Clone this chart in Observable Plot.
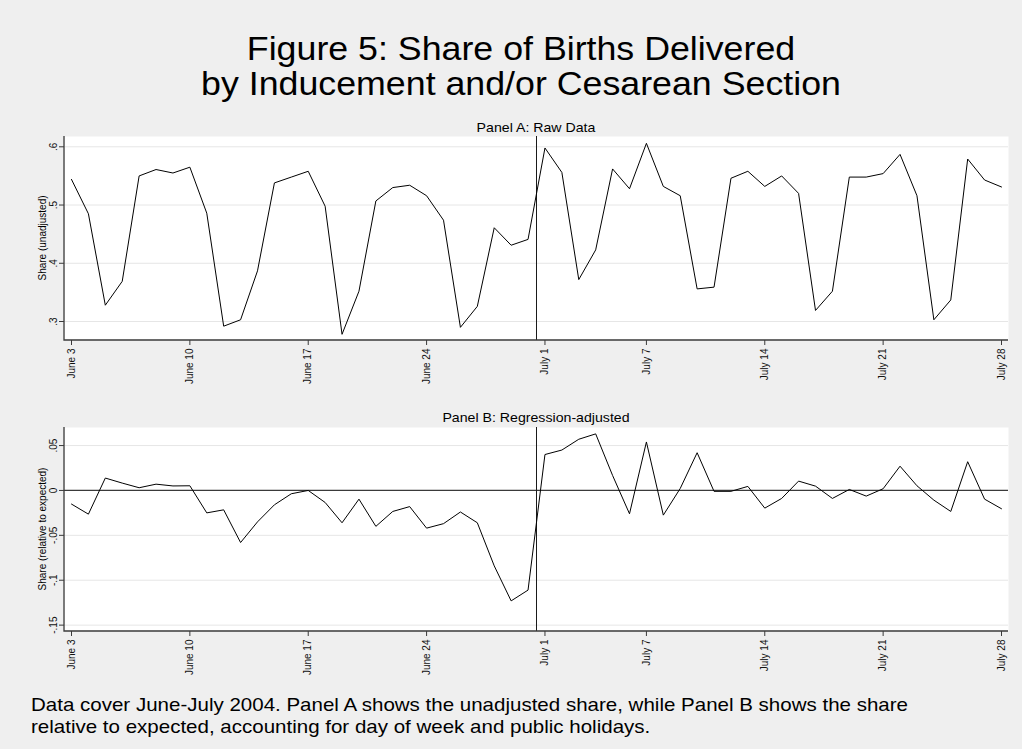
<!DOCTYPE html>
<html>
<head>
<meta charset="utf-8">
<script src="https://cdn.jsdelivr.net/npm/d3@7"></script>
<script src="https://cdn.jsdelivr.net/npm/@observablehq/plot@0.6"></script>
<style>
  html, body { margin: 0; padding: 0; background: #efefef; }
  #chart { position: relative; width: 1022px; height: 749px; background: #efefef; overflow: hidden;
           font-family: "Liberation Sans", Arial, Helvetica, sans-serif; }
  .panel { position: absolute; left: 0; }
  #labels { position: absolute; left: 0; top: 0; pointer-events: none; }
</style>
</head>
<body>
<div id="chart"></div>
<script>
// Daily share of births delivered by inducement and/or cesarean section, June 3 – July 28, 2004
const rawShare = [
  0.544, 0.485, 0.328, 0.369, 0.550, 0.561, 0.555, 0.565, 0.486, 0.292,
  0.303, 0.387, 0.538, 0.548, 0.558, 0.498, 0.278, 0.352, 0.507, 0.530,
  0.534, 0.516, 0.474, 0.290, 0.326, 0.461, 0.431, 0.441,
  0.598, 0.556, 0.372, 0.423, 0.562, 0.528, 0.606, 0.532, 0.516, 0.356,
  0.359, 0.546, 0.558, 0.532, 0.550, 0.520, 0.319, 0.352, 0.548, 0.548,
  0.554, 0.587, 0.516, 0.303, 0.337, 0.579, 0.543, 0.531
];

// Share relative to expected (day-of-week and holiday adjusted)
const adjShare = [
  -0.0152, -0.0264, 0.0138, 0.0082, 0.0030, 0.0070, 0.0050, 0.0052, -0.0250, -0.0216,
  -0.0580, -0.0350, -0.0160, -0.0037, 0.0000, -0.0134, -0.0360, -0.0097, -0.0400, -0.0234,
  -0.0180, -0.0420, -0.0370, -0.0240, -0.0360, -0.0840, -0.1230, -0.1110,
  0.0400, 0.0450, 0.0570, 0.0630, 0.0167, -0.0260, 0.0540, -0.0275, 0.0022, 0.0420,
  -0.0010, -0.0010, 0.0045, -0.0197, -0.0089, 0.0104, 0.0048, -0.0089, 0.0011, -0.0063,
  0.0019, 0.0270, 0.0052, -0.0108, -0.0234, 0.0320, -0.0097, -0.0204
];

const firstDay = new Date(Date.UTC(2004, 5, 3));
const lastDay = new Date(Date.UTC(2004, 6, 28));
const days = d3.utcDay.range(firstDay, d3.utcDay.offset(lastDay, 1));

const tickDates = [
  Date.UTC(2004, 5, 3), Date.UTC(2004, 5, 10), Date.UTC(2004, 5, 17), Date.UTC(2004, 5, 24),
  Date.UTC(2004, 6, 1), Date.UTC(2004, 6, 7), Date.UTC(2004, 6, 14), Date.UTC(2004, 6, 21),
  Date.UTC(2004, 6, 28)
].map(t => new Date(t));
const tickLabels = ["June 3", "June 10", "June 17", "June 24", "July 1", "July 7", "July 14", "July 21", "July 28"];

const yTicksA = [0.3, 0.4, 0.5, 0.6];
const yTicksB = [-0.15, -0.1, -0.05, 0, 0.05];

// Boundary between June and July
const monthBreak = new Date(Date.UTC(2004, 5, 30, 12));

const rows = days.map((d, i) => ({date: d, raw: rawShare[i], adj: adjShare[i]}));
const labelByTime = new Map(tickDates.map((d, i) => [+d, tickLabels[i]]));
const fmtShare = d => d === 0 ? "0" : String(d).replace("0.", ".");

const axisColor = "#3a3a3a";

// Left and bottom axis lines of the plot region
const axisLines = (index, scales, values, dims) => {
  const {width, height, marginTop, marginRight, marginBottom, marginLeft} = dims;
  return d3.create("svg:path")
    .attr("d", `M${marginLeft},${marginTop}V${height - marginBottom}H${width - marginRight}`)
    .attr("fill", "none")
    .attr("stroke", axisColor)
    .attr("stroke-width", 1.3)
    .node();
};

function panel({field, domain, ticks, zeroLine}) {
  return Plot.plot({
    width: 1022,
    height: 280,
    marginTop: 16,
    marginBottom: 60,
    marginLeft: 64,
    marginRight: 14,
    style: {background: "none", fontFamily: "'Liberation Sans', Arial, sans-serif", fontSize: "10px", color: "#111", overflow: "visible"},
    x: {type: "utc", domain: [firstDay, lastDay], inset: 7},
    y: {domain},
    marks: [
      Plot.frame({fill: "white"}),
      Plot.gridY(ticks, {stroke: "#e6e6e6", strokeOpacity: 1, strokeWidth: 1}),
      zeroLine ? Plot.ruleY([0], {stroke: "#3a3a3a", strokeWidth: 1.2}) : null,
      Plot.ruleX([monthBreak], {stroke: "#1a1a1a", strokeWidth: 1}),
      Plot.lineY(rows, {x: "date", y: field, stroke: "#000", strokeWidth: 1}),
      Plot.axisY(ticks, {tickSize: 5, tickPadding: 3, tickRotate: -90, textAnchor: "middle", lineAnchor: "bottom", tickFormat: fmtShare, label: null, stroke: axisColor}),
      Plot.axisX(tickDates, {tickSize: 5, tickPadding: 3, tickRotate: -90, tickFormat: d => labelByTime.get(+d), label: null, stroke: axisColor}),
      axisLines
    ]
  });
}

const chart = document.getElementById("chart");

const panelA = document.createElement("div");
panelA.className = "panel";
panelA.style.top = "120px";
panelA.append(panel({field: "raw", domain: [0.2674, 0.6177], ticks: yTicksA, zeroLine: false}));
chart.append(panelA);

const panelB = document.createElement("div");
panelB.className = "panel";
panelB.style.top = "411px";
panelB.append(panel({field: "adj", domain: [-0.1571, 0.0701], ticks: yTicksB, zeroLine: true}));
chart.append(panelB);

// Titles, panel headings, axis titles and note
const svg = d3.select(chart).append("svg")
  .attr("id", "labels")
  .attr("width", 1022)
  .attr("height", 749)
  .attr("font-family", "'Liberation Sans', Arial, sans-serif")
  .attr("fill", "#000");

const addText = (str, x, y, size, {anchor = "middle", sx = 1, rotate = 0} = {}) =>
  svg.append("text")
    .attr("transform", `translate(${x},${y}) rotate(${rotate}) scale(${sx},1)`)
    .attr("text-anchor", anchor)
    .attr("font-size", size)
    .text(str);

addText("Figure 5: Share of Births Delivered", 521, 60, 32.5, {sx: 1.1});
addText("by Inducement and/or Cesarean Section", 521, 95, 32.5, {sx: 1.1});

addText("Panel A: Raw Data", 536, 131.7, 13, {sx: 1.09});
addText("Panel B: Regression-adjusted", 536, 421.7, 13, {sx: 1.09});

addText("Share (unadjusted)", 45.5, 238, 10, {rotate: -90});
addText("Share (relative to expected)", 45.5, 529, 10, {rotate: -90});

addText("Data cover June-July 2004. Panel A shows the unadjusted share, while Panel B shows the share", 31, 710.7, 18, {anchor: "start", sx: 1.14});
addText("relative to expected, accounting for day of week and public holidays.", 31, 732.7, 18, {anchor: "start", sx: 1.14});
</script>
</body>
</html>
